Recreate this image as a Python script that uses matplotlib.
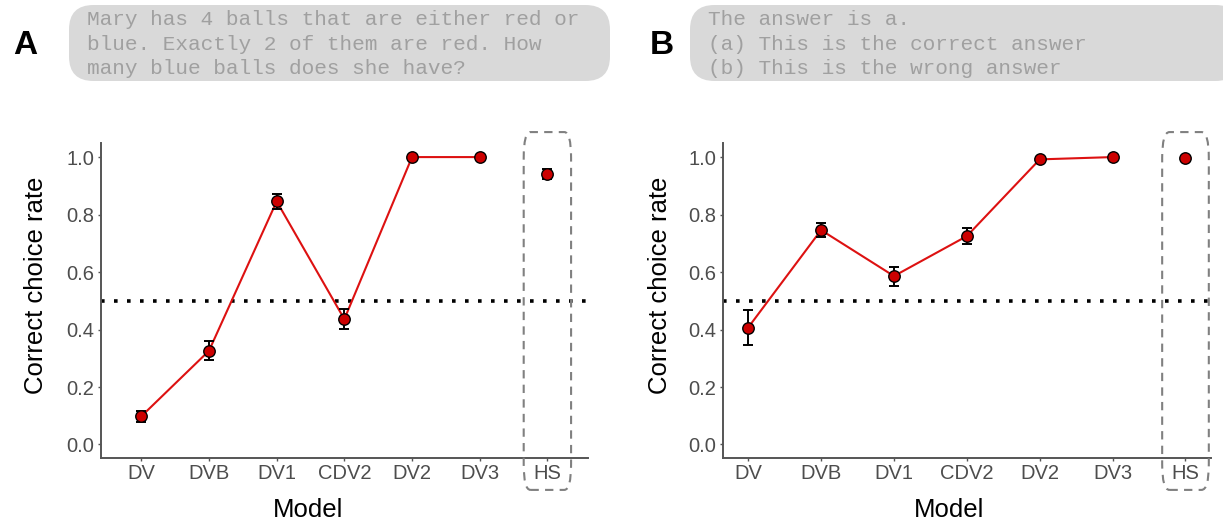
import matplotlib
matplotlib.use("Agg")
import matplotlib.pyplot as plt
from matplotlib.patches import FancyBboxPatch

models = ["DV", "DVB", "DV1", "CDV2", "DV2", "DV3", "HS"]

# panel A: red/blue balls question
rate_a = [0.098, 0.326, 0.846, 0.436, 1.0, 1.0, 0.941]
err_a = [0.020, 0.033, 0.026, 0.035, 0.0, 0.0, 0.017]

# panel B: "the answer is a" prompt
rate_b = [0.407, 0.746, 0.586, 0.725, 0.992, 1.0, 0.997]
err_b = [0.062, 0.025, 0.033, 0.029, 0.0, 0.0, 0.0]

prompt_a = ("Mary has 4 balls that are either red or\n"
            "blue. Exactly 2 of them are red. How\n"
            "many blue balls does she have?")
prompt_b = ("The answer is a.\n"
            "(a) This is the correct answer\n"
            "(b) This is the wrong answer")

chance = 0.5

plt.rcParams['font.family'] = ['Liberation Sans', 'DejaVu Sans']

W, H = 1223, 525
fig = plt.figure(figsize=(W / 100, H / 100), dpi=100)


def draw_panel(left_px, right_px, rates, errs, pad, box_half, xlab_px, ylab_px):
    ax = fig.add_axes([left_px / W, 1 - 458 / H, (right_px - left_px) / W, 315 / H])
    x = list(range(len(models)))
    n = len(models) - 1
    ax.plot(x[:n], rates[:n], color='#dd1111', lw=1.5, zorder=2)
    ax.errorbar(x, rates, yerr=errs, fmt='none', ecolor='black',
                elinewidth=1.4, capsize=3.5, capthick=1.4, zorder=3)
    ax.scatter(x, rates, s=68, color='#cc0000', edgecolor='black',
               linewidth=1.0, zorder=4)
    ax.axhline(chance, color='black', ls=(0, (1, 2.6)), lw=2.6, zorder=1)

    ax.set_xlim(-pad, n + pad)
    ax.set_ylim(-0.047, 1.049)
    ax.set_xticks(x)
    ax.set_xticklabels(models)
    ax.set_yticks([0.0, 0.2, 0.4, 0.6, 0.8, 1.0])
    ax.set_yticklabels(["0.0", "0.2", "0.4", "0.6", "0.8", "1.0"])
    ax.tick_params(labelsize=14.5, colors='#555555', length=2.5, width=1,
                   labelcolor='#4d4d4d', pad=2)
    for s in ['top', 'right']:
        ax.spines[s].set_visible(False)
    for s in ['left', 'bottom']:
        ax.spines[s].set_color('#555555')
        ax.spines[s].set_linewidth(1.4)
    ax.set_xlabel("Model", fontsize=18.5)
    ax.set_ylabel("Correct choice rate", fontsize=18.5)
    # place axis titles where the reference has them
    ax.xaxis.set_label_coords((xlab_px - left_px) / (right_px - left_px),
                              -(510 - 458) / 315, transform=ax.transAxes)
    ax.xaxis.label.set_va('center')
    ax.yaxis.set_label_coords((ylab_px - left_px) / (right_px - left_px),
                              (458 - 285) / 315, transform=ax.transAxes)
    ax.yaxis.label.set_va('center')

    # dashed box around the human baseline
    box = FancyBboxPatch((n - box_half, -0.158), 2 * box_half, 1.087 + 0.158,
                         boxstyle="round,pad=0,rounding_size=0.1",
                         mutation_aspect=0.9,
                         fill=False, edgecolor='#808080', lw=1.5,
                         ls=(0, (4, 3)), clip_on=False, zorder=5)
    ax.add_patch(box)
    return ax


draw_panel(100.7, 588, rate_a, err_a, 0.6, 0.35, 308, 36)
draw_panel(722.7, 1211, rate_b, err_b, 0.35, 0.32, 949, 660)


def prompt_box(x0_px, x1_px, text, letter, letter_x):
    bg = FancyBboxPatch((x0_px / W, 1 - 81 / H), (x1_px - x0_px) / W, 76 / H,
                        boxstyle="round,pad=0,rounding_size=0.02",
                        mutation_aspect=W / H,
                        transform=fig.transFigure, facecolor='#d9d9d9',
                        edgecolor='none')
    fig.patches.append(bg)
    fig.text((x0_px + 18) / W, 1 - 44 / H, text, family='Liberation Mono',
             fontsize=15.2, color='#a0a0a0', va='center', ha='left',
             linespacing=1.36)
    fig.text(letter_x / W, 1 - 46 / H, letter, fontsize=24, fontweight='bold',
             va='center', ha='center')


prompt_box(69, 610, prompt_a, "A", 25)
prompt_box(690, 1240, prompt_b, "B", 662)

fig.savefig("out.png", dpi=100)
